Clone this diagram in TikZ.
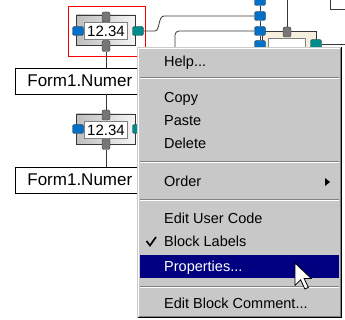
\documentclass[tikz,border=0pt]{standalone}
\usepackage{fontspec}
\setmainfont{Liberation Sans}
\usepackage{tikz}

\definecolor{menugray}{RGB}{200,200,200}
\definecolor{seldark}{RGB}{0,0,128}
\definecolor{portblue}{RGB}{0,112,200}
\definecolor{portteal}{RGB}{0,140,140}
\definecolor{portgray}{RGB}{118,118,118}
\definecolor{beige}{RGB}{246,239,222}
\definecolor{wire}{RGB}{55,55,55}

\tikzset{
  block/.style={draw=wire, line width=0.9pt, left color=gray!50, right color=gray!8, minimum width=59pt, minimum height=30pt, inner sep=0pt},
  valbox/.style={draw=gray, fill=white, minimum width=43pt, minimum height=17pt, inner sep=0pt, font=\fontsize{15}{16}\selectfont},
  vport/.style={draw=wire, fill=portgray, minimum width=8pt, minimum height=10pt, inner sep=0pt, rounded corners=2pt},
  inport/.style={draw=wire, fill=portblue, minimum width=11pt, minimum height=9pt, inner sep=0pt, rounded corners=2pt},
  outport/.style={inport, fill=portteal},
  namebox/.style={draw=black, line width=0.8pt, fill=white, anchor=west, minimum height=26pt, text width=140pt, inner xsep=12pt, inner ysep=0pt, align=left, font=\fontsize{17}{18}\selectfont},
  item/.style={anchor=base west, inner sep=0pt, font=\fontsize{14.5}{16}\selectfont},
  wirel/.style={draw=wire, line width=0.8pt},
}

\begin{document}
\begin{tikzpicture}[x=1pt, y=-1pt]
	\useasboundingbox[fill=white] (0,0) rectangle (345,320);

	% diagram behind the menu
	\node[draw=wire, fill=beige, minimum width=54pt, minimum height=38pt] (b3) at (289,50) {};
	\node[draw=gray, fill=white, minimum width=37pt, minimum height=14pt] (b3val) at (287,45) {};
	\node[vport] (b3top) at (287,32) {};
	\node[outport] (b3out) at (316,44) {};
	\node[inport] (p1) at (260,1) {};
	\node[inport] (p2) at (260,16) {};
	\node[inport] (p3) at (260,31) {};
	\node[inport] (p4) at (260,45) {};
	\draw[wirel] (p1) to (p2);
	\draw[wirel] (p2) to (p3);
	\draw[wirel] (p3) to (p4);

	\coordinate (w2) at (175,52);
	\coordinate (w3) at (287,0);
	\coordinate (w4) at (330,0);
	\coordinate (w5) at (345,9);
	\coordinate (w6) at (345,44);
	\draw[wirel] (w3) to (b3top.north);
	\draw[wirel] (w4) |- (w5);
	\draw[wirel] (b3out.east) to (w6);

	\node[block] (b1) at (106,30) {};
	\node[vport] (b1top) at (106,17) {};
	\node[vport, minimum height=11pt] (b1bot) at (106,46) {};
	\node[inport] (b1in) at (78,31) {};
	\node[outport] (b1out) at (138,31) {};
	\node[valbox] (b1val) at (106,31) {12.34};
	\draw[red, line width=1pt] (68,7) rectangle (145,57);

	\node[namebox] (f1) at (15,81) {Form1.Numer};

	\node[block] (b2) at (106,129) {};
	\node[vport] (b2top) at (106,115) {};
	\node[vport, minimum height=11pt] (b2bot) at (106,144) {};
	\node[inport] (b2in) at (78,129) {};
	\node[outport] (b2out) at (138,129) {};
	\node[valbox] (b2val) at (106,130) {12.34};

	\node[namebox] (f2) at (15,180) {Form1.Numer};

	\draw[wirel] (b1bot.south) to (b1bot.south |- f1.north);
	\draw[wirel] (b2top.north |- f1.south) to (b2top.north);
	\draw[wirel] (b2bot.south) to (b2bot.south |- f2.north);
	\draw[wirel] (b1out.east) -- (155,31) .. controls (160,31) and (158,16) .. (164,16) -- (p2.west);
	\draw[wirel, rounded corners=4pt] (w2) |- (p3.west);

	% context menu
	\fill[menugray] (137,47) rectangle (342,318);
	\draw[gray!40, line width=1pt] (137.5,317.5) -- (137.5,47.5) -- (341.5,47.5);
	\draw[white, line width=1pt] (138.5,316.5) -- (138.5,48.5) -- (340.5,48.5);
	\draw[black, line width=1pt] (137.5,317.5) -- (341.5,317.5) -- (341.5,47.5);
	\draw[gray, line width=1pt] (138.5,316.5) -- (340.5,316.5) -- (340.5,48.5);

	\draw[gray, line width=1pt] (140,78) -- (339,78);
	\draw[white, line width=1pt] (140,79) -- (339,79);
	\draw[gray, line width=1pt] (140,162) -- (339,162);
	\draw[white, line width=1pt] (140,163) -- (339,163);
	\draw[gray, line width=1pt] (140,200) -- (339,200);
	\draw[white, line width=1pt] (140,201) -- (339,201);
	\draw[gray, line width=1pt] (140,286) -- (339,286);
	\draw[white, line width=1pt] (140,287) -- (339,287);

	\fill[seldark] (140,255) rectangle (339,278);

	\node[item] (help) at (164,67) {Help...};
	\node[item] (copy) at (164,103) {Copy};
	\node[item] (paste) at (164,126) {Paste};
	\node[item] (delete) at (164,149) {Delete};
	\node[item] (order) at (164,187) {Order};
	\node[item] (usercode) at (164,224) {Edit User Code};
	\node[item] (labels) at (164,247) {Block Labels};
	\node[item, text=white] (props) at (164,271) {Properties...};
	\node[item] (comment) at (164,308) {Edit Block Comment...};

	\fill[black] (325,178) -- (330,182) -- (325,186) -- cycle;
	\draw[black, line width=1.7pt] (146.5,241) -- (150,245.5) -- (156,237);

	% mouse pointer
	\draw[fill=white, line width=0.8pt, line join=miter, shift={(295,263)}, scale=1.4]
		(0,0) -- (0,16) -- (4,12) -- (7,18.5) -- (9.5,17.5) -- (6.5,11) -- (11.5,11) -- cycle;
\end{tikzpicture}
\end{document}
